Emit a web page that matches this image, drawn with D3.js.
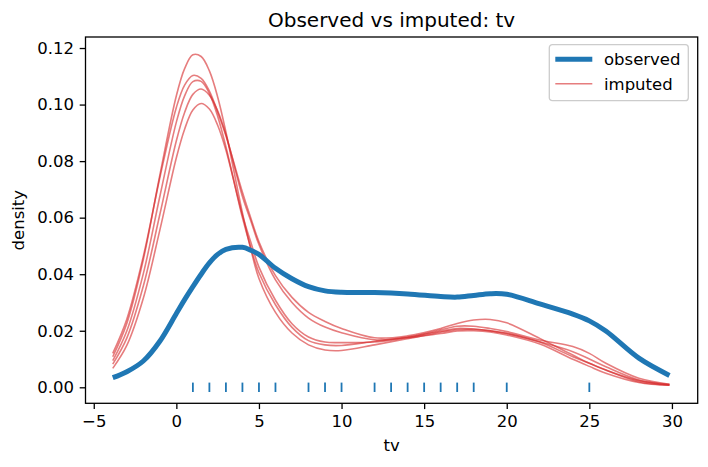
<!DOCTYPE html>
<html>
<head>
<meta charset="utf-8">
<script src="https://cdn.jsdelivr.net/npm/d3@7"></script>
<style>
  body { margin: 0; background: #fff; }
  text { font-family: "DejaVu Sans", sans-serif; fill: #000; }
</style>
</head>
<body>
<svg id="chart" width="708" height="467"></svg>
<script>
// grid of x positions the curves were read at
var xs = [-3.85, -3, -2, -1, 0, 0.5, 1, 1.5, 2, 2.5, 3, 4, 4.5, 5, 6, 7, 8, 9, 10, 12, 14, 16, 17, 18, 19, 20, 22, 24, 25, 26, 28, 29.85];

var observed = [0.0034, 0.0055, 0.0093, 0.0163, 0.0261, 0.0310, 0.0356, 0.0400, 0.0440, 0.0470, 0.0488, 0.0495, 0.0485, 0.0470, 0.0421, 0.0384, 0.0356, 0.0341, 0.0336, 0.0335, 0.0330, 0.0321, 0.0319, 0.0325, 0.0331, 0.0329, 0.0295, 0.0259, 0.0235, 0.0199, 0.0103, 0.0042];

var imp1 = [0.0108, 0.0226, 0.0452, 0.0750, 0.1031, 0.1127, 0.1176, 0.1170, 0.1119, 0.1027, 0.0903, 0.0617, 0.0490, 0.0385, 0.0265, 0.0192, 0.0150, 0.0132, 0.0130, 0.0150, 0.0172, 0.0195, 0.0204, 0.0205, 0.0200, 0.0190, 0.0160, 0.0108, 0.0085, 0.0061, 0.0020, 0.0007];
var imp2 = [0.0120, 0.0241, 0.0463, 0.0741, 0.0990, 0.1069, 0.1103, 0.1093, 0.1048, 0.0974, 0.0890, 0.0690, 0.0600, 0.0515, 0.0395, 0.0318, 0.0265, 0.0233, 0.0208, 0.0175, 0.0182, 0.0208, 0.0226, 0.0238, 0.0240, 0.0228, 0.0173, 0.0114, 0.0085, 0.0061, 0.0024, 0.0011];
var imp3 = [0.0094, 0.0199, 0.0402, 0.0675, 0.0938, 0.1031, 0.1081, 0.1082, 0.1039, 0.0959, 0.0851, 0.0600, 0.0495, 0.0405, 0.0292, 0.0212, 0.0165, 0.0150, 0.0148, 0.0163, 0.0178, 0.0198, 0.0208, 0.0206, 0.0200, 0.0191, 0.0161, 0.0126, 0.0100, 0.0073, 0.0026, 0.0008];
var imp4 = [0.0082, 0.0174, 0.0358, 0.0611, 0.0872, 0.0972, 0.1036, 0.1055, 0.1033, 0.0978, 0.0894, 0.0675, 0.0590, 0.0505, 0.0380, 0.0300, 0.0245, 0.0213, 0.0193, 0.0168, 0.0176, 0.0203, 0.0216, 0.0216, 0.0208, 0.0197, 0.0167, 0.0144, 0.0120, 0.0085, 0.0032, 0.0011];
var imp5 = [0.0067, 0.0148, 0.0315, 0.0556, 0.0812, 0.0913, 0.0981, 0.1004, 0.0984, 0.0927, 0.0839, 0.0609, 0.0515, 0.0425, 0.0308, 0.0225, 0.0178, 0.0160, 0.0158, 0.0160, 0.0175, 0.0190, 0.0199, 0.0200, 0.0196, 0.0185, 0.0153, 0.0099, 0.0074, 0.0050, 0.0017, 0.0007];

// observed values shown as a rug
var rug = [1, 2, 3, 4, 5, 6, 8, 9, 10, 12, 13, 14, 15, 16, 17, 18, 20, 25];

var xTicks = [-5, 0, 5, 10, 15, 20, 25, 30];
var yTicks = [0, 0.02, 0.04, 0.06, 0.08, 0.10, 0.12];

var svg = d3.select("#chart"),
    margin = {top: 37, right: 10.3, bottom: 63.7, left: 85.5},
    width = +svg.attr("width") - margin.left - margin.right,
    height = +svg.attr("height") - margin.top - margin.bottom;

var blue = "#1f77b4", red = "#d62728";

var x = d3.scaleLinear().domain([-5.5, 31.56]).range([0, width]);
var y = d3.scaleLinear().domain([-0.00566, 0.1239]).range([height, 0]);

var g = svg.append("g").attr("transform", "translate(" + margin.left + "," + margin.top + ")");

var line = d3.line()
    .x(function(d) { return x(d[0]); })
    .y(function(d) { return y(d[1]); })
    .curve(d3.curveCatmullRom.alpha(0.5));

function pts(vals) { return xs.map(function(v, i) { return [v, vals[i]]; }); }

// imputed curves
[imp1, imp2, imp3, imp4, imp5].forEach(function(s) {
  g.append("path")
      .attr("d", line(pts(s)))
      .attr("fill", "none")
      .attr("stroke", red)
      .attr("stroke-opacity", 0.6)
      .attr("stroke-width", 1.6);
});

// observed curve
g.append("path")
    .attr("d", line(pts(observed)))
    .attr("fill", "none")
    .attr("stroke", blue)
    .attr("stroke-width", 5);

// rug
g.selectAll(".rug")
    .data(rug)
    .enter().append("line")
    .attr("class", "rug")
    .attr("x1", function(d) { return x(d); })
    .attr("x2", function(d) { return x(d); })
    .attr("y1", y(0) - 4.7)
    .attr("y2", y(0) + 4.7)
    .attr("stroke", blue)
    .attr("stroke-width", 1.8);

// axes
var fmtX = function(d) { return d < 0 ? "\u2212" + Math.abs(d) : d; };
var xAxis = d3.axisBottom(x).tickValues(xTicks).tickFormat(fmtX).tickSizeInner(5.8).tickSizeOuter(0).tickPadding(5.8);
var yAxis = d3.axisLeft(y).tickValues(yTicks).tickFormat(d3.format(".2f")).tickSizeInner(5.8).tickSizeOuter(0).tickPadding(5.8);

var gx = g.append("g").attr("transform", "translate(0," + height + ")").call(xAxis);
var gy = g.append("g").call(yAxis);
[gx, gy].forEach(function(a) {
  a.select(".domain").remove();
  a.selectAll(".tick line").attr("stroke", "#000").attr("stroke-width", 1.3);
  a.selectAll(".tick text").style("font-size", "16.5px").attr("fill", "#000");
});

// frame
g.append("rect")
    .attr("width", width)
    .attr("height", height)
    .attr("fill", "none")
    .attr("stroke", "#000")
    .attr("stroke-width", 1.3);

// labels
svg.append("text")
    .attr("x", margin.left + width / 2)
    .attr("y", 26.5)
    .attr("text-anchor", "middle")
    .style("font-size", "20px")
    .text("Observed vs imputed: tv");

svg.append("text")
    .attr("x", margin.left + width / 2)
    .attr("y", 451)
    .attr("text-anchor", "middle")
    .style("font-size", "16.5px")
    .text("tv");

svg.append("text")
    .attr("transform", "translate(24," + (margin.top + height / 2) + ") rotate(-90)")
    .attr("text-anchor", "middle")
    .style("font-size", "16.5px")
    .text("density");

// legend
var lg = svg.append("g").attr("transform", "translate(549.3,44.7)");
lg.append("rect")
    .attr("width", 139)
    .attr("height", 56)
    .attr("rx", 3)
    .attr("fill", "#fff")
    .attr("fill-opacity", 0.8)
    .attr("stroke", "#cccccc")
    .attr("stroke-width", 1.3);
var items = [
  {name: "observed", color: blue, w: 5, op: 1},
  {name: "imputed", color: red, w: 1.6, op: 0.6}
];
items.forEach(function(it, i) {
  var cy = 14.6 + i * 24.4;
  lg.append("line")
      .attr("x1", 6).attr("x2", 43)
      .attr("y1", cy).attr("y2", cy)
      .attr("stroke", it.color)
      .attr("stroke-opacity", it.op)
      .attr("stroke-width", it.w);
  lg.append("text")
      .attr("x", 54.7)
      .attr("y", cy + 6)
      .style("font-size", "16.5px")
      .text(it.name);
});
</script>
</body>
</html>
